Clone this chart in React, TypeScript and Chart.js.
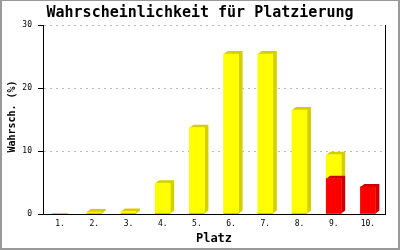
import React, { useEffect, useRef } from "react";
import { Chart, registerables } from "chart.js";

Chart.register(...registerables);

const categories = ["1.", "2.", "3.", "4.", "5.", "6.", "7.", "8.", "9.", "10."];
const redValues = [0, 0, 0, 0, 0, 0, 0, 0, 5.6, 4.3];
const yellowValues = [0, 0.3, 0.4, 4.9, 13.7, 25.4, 25.4, 16.5, 3.8, 0];
const yTicks = [0, 10, 20, 30];

const MONO = "'DejaVu Sans Mono', monospace";

const extrude = {
  id: "extrude",
  beforeDatasetDraw(chart: any, args: any) {
    const ds = chart.data.datasets[args.index];
    const ctx = chart.ctx;
    const dx = 4;
    const dy = 3;
    ctx.save();
    ctx.fillStyle = ds.sideColor;
    for (const el of args.meta.data) {
      const p = el.getProps(["x", "y", "base", "width"], true);
      const left = p.x - p.width / 2;
      const right = p.x + p.width / 2;
      const top = Math.min(p.y, p.base);
      const bottom = Math.max(p.y, p.base);
      if (bottom - top < 0.5) continue;
      ctx.beginPath();
      ctx.moveTo(left, top);
      ctx.lineTo(left + dx, top - dy);
      ctx.lineTo(right + dx, top - dy);
      ctx.lineTo(right + dx, bottom - dy);
      ctx.lineTo(right, bottom);
      ctx.lineTo(right, top);
      ctx.closePath();
      ctx.fill();
    }
    ctx.restore();
  },
};

const frame = {
  id: "frame",
  afterDraw(chart: any) {
    const ctx = chart.ctx;
    ctx.save();
    ctx.fillStyle = "#999";
    const w = chart.width;
    const h = chart.height;
    ctx.fillRect(0, 0, 2, h);
    ctx.fillRect(w - 2, 0, 2, h);
    ctx.fillRect(0, h - 2, w, 2);
    ctx.fillRect(0, 0, w, 1);
    ctx.restore();
  },
};

export default function App() {
  const ref = useRef<HTMLCanvasElement>(null);
  useEffect(() => {
    const chart = new Chart(ref.current as HTMLCanvasElement, {
      type: "bar",
      data: {
        labels: categories,
        datasets: [
          {
            label: "rot",
            data: redValues,
            backgroundColor: "#ff0000",
            sideColor: "#cc0000",
            barThickness: 15,
          } as any,
          {
            label: "gelb",
            data: yellowValues,
            backgroundColor: "#ffff00",
            sideColor: "#d4d000",
            barThickness: 15,
          } as any,
        ],
      },
      options: {
        animation: false,
        responsive: false,
        layout: { padding: 0 },
        plugins: {
          legend: { display: false },
          tooltip: { enabled: false },
          title: {
            display: true,
            text: "Wahrscheinlichkeit für Platzierung",
            color: "#000",
            font: { family: MONO, size: 15, weight: "bold" },
            padding: { top: 4, bottom: 3 },
          },
        },
        scales: {
          x: {
            stacked: true,
            grid: { display: false, drawTicks: false },
            border: { display: true, color: "#000", width: 1 },
            ticks: { color: "#000", font: { family: MONO, size: 8 }, padding: 5, maxRotation: 0 },
            title: {
              display: true,
              text: "Platz",
              color: "#000",
              font: { family: MONO, size: 12, weight: "bold" },
              padding: { top: 0, bottom: 4 },
            },
            afterFit: (s: any) => {
              s.height = 36;
            },
          },
          y: {
            stacked: true,
            min: 0,
            max: 30,
            afterBuildTicks: (s: any) => {
              s.ticks = yTicks.map((v) => ({ value: v }));
            },
            grid: {
              color: "#bbbbbb",
              tickColor: "#000",
              tickBorderDash: [],
              tickLength: 5,
              drawTicks: true,
            } as any,
            border: { display: true, color: "#000", width: 1, dash: [2, 4] },
            ticks: { color: "#000", font: { family: MONO, size: 8 }, padding: 6 },
            title: {
              display: true,
              text: " Wahrsch. (%)",
              color: "#000",
              font: { family: MONO, size: 10, weight: "bold" },
              padding: { top: 6, bottom: 0 },
            },
            afterFit: (s: any) => {
              s.width = 43;
            },
          },
          y2: {
            position: "right",
            min: 0,
            max: 30,
            grid: { display: false, drawTicks: false },
            border: { display: true, color: "#000", width: 1 },
            ticks: { display: false },
            afterFit: (s: any) => {
              s.width = 15;
            },
          },
        },
      } as any,
      plugins: [extrude, frame],
    });
    return () => chart.destroy();
  }, []);
  return (
    <div style={{ position: "fixed", left: 0, top: 0, width: 400, height: 250, background: "#fff" }}>
      <canvas ref={ref} width={400} height={250} style={{ width: 400, height: 250, display: "block" }} />
    </div>
  );
}
